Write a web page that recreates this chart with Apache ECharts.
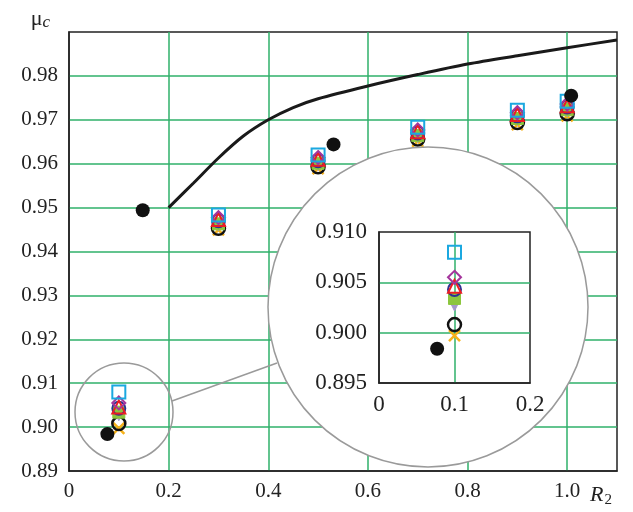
<!DOCTYPE html>
<html><head><meta charset="utf-8">
<script src="https://cdn.jsdelivr.net/npm/echarts@6/dist/echarts.min.js"></script>
<style>html,body{margin:0;padding:0;background:#fff}#c{width:633px;height:512px}</style>
</head><body><div id="c"></div>
<script>
// ---- data ----
const xVals = [0.1, 0.3, 0.5, 0.7, 0.9, 1.0];
const squareY   = [0.9080, 0.9483, 0.9620, 0.9683, 0.9722, 0.9742];
const diamondY  = [0.9055, 0.9477, 0.9614, 0.9677, 0.9716, 0.9736];
const triangleY = [0.9046, 0.9473, 0.9610, 0.9673, 0.9712, 0.9732];
const circleY   = [0.9043, 0.9470, 0.9607, 0.9670, 0.9709, 0.9729];
const greenY    = [0.9034, 0.9463, 0.9601, 0.9664, 0.9703, 0.9723];
const lavenderY = [0.9027, 0.9459, 0.9597, 0.9660, 0.9699, 0.9719];
const blackCircleY = [0.9008, 0.9453, 0.9593, 0.9656, 0.9694, 0.9714];
const crossY    = [0.8997, 0.9449, 0.9589, 0.9651, 0.9689, 0.9709];
const dotX = [0.077, 0.148, 0.531, 1.008];
const dotY = [0.8984, 0.9494, 0.9644, 0.9755];
const lineX = [0.2, 0.25, 0.3, 0.35, 0.4, 0.45, 0.5, 0.6, 0.7, 0.8, 0.9, 1.0, 1.1];
const lineY = [0.950, 0.9556, 0.9613, 0.9663, 0.9700, 0.9728, 0.9748, 0.9777, 0.9803, 0.9827, 0.9846, 0.9864, 0.9882];
const mainXTicks = [0, 0.2, 0.4, 0.6, 0.8, 1.0];
const mainYTicks = [0.89, 0.90, 0.91, 0.92, 0.93, 0.94, 0.95, 0.96, 0.97, 0.98];
const insetXTicks = [0, 0.1, 0.2];
const insetYTicks = [0.895, 0.900, 0.905, 0.910];

const FONT = 'Liberation Serif';
const GRID_C = '#2fb16a';
const zip = (xs, ys) => xs.map((x, i) => [x, ys[i]]);
const near = (v, arr) => arr.some(t => Math.abs(t - v) < 1e-6);

const markerDefs = [
  {name: 'cross', y: crossY, symbol: 'path://M0,0L10,10M10,0L0,10', color: 'rgba(0,0,0,0)', border: '#f6b21b', bw: 2.5, size: 11},
  {name: 'blackCircle', y: blackCircleY, symbol: 'circle', color: 'rgba(0,0,0,0)', border: '#111', bw: 2.5, size: 13},
  {name: 'lavender', y: lavenderY, symbol: 'triangle', rotate: 180, color: '#a598cc', border: '#a598cc', bw: 1, size: 11},
  {name: 'green', y: greenY, symbol: 'rect', color: '#8cc63e', border: '#8cc63e', bw: 1, size: 12},
  {name: 'circle', y: circleY, symbol: 'circle', color: 'rgba(0,0,0,0)', border: '#2e3192', bw: 2, size: 13},
  {name: 'triangle', y: triangleY, symbol: 'triangle', color: 'rgba(0,0,0,0)', border: '#ec1c24', bw: 2, size: 13},
  {name: 'diamond', y: diamondY, symbol: 'diamond', color: 'rgba(0,0,0,0)', border: '#a4359c', bw: 2, size: 13},
  {name: 'square', y: squareY, symbol: 'rect', color: 'rgba(0,0,0,0)', border: '#1ba8e0', bw: 2, size: 13}
];

function markerSeries(xi, yi, z) {
  const s = markerDefs.map(m => ({
    type: 'scatter', xAxisIndex: xi, yAxisIndex: yi, z: z,
    data: zip(xVals, m.y), symbol: m.symbol, symbolSize: m.size,
    symbolRotate: m.rotate || 0, clip: true, animation: false,
    itemStyle: {color: m.color, borderColor: m.border, borderWidth: m.bw, opacity: 1}
  }));
  s.push({type: 'scatter', xAxisIndex: xi, yAxisIndex: yi, z: z, data: zip(dotX, dotY),
    symbol: 'circle', symbolSize: 14, clip: true, animation: false, itemStyle: {color: '#111', opacity: 1}});
  return s;
}

const chart = echarts.init(document.getElementById('c'), null, {renderer: 'canvas'});
const option = {
  animation: false,
  backgroundColor: '#fff',
  grid: [
    {left: 69, right: 16, top: 32, bottom: 41, show: true, borderColor: '#222', borderWidth: 1.5, backgroundColor: 'transparent'},
    {left: 379, top: 232, width: 151, height: 151, show: true, borderColor: '#222', borderWidth: 1.5, backgroundColor: '#fff', z: 10}
  ],
  xAxis: [
    {gridIndex: 0, type: 'value', min: 0, max: 1.1, interval: 0.2,
     axisLine: {show: true, lineStyle: {color: '#222', width: 1.5}}, axisTick: {show: false},
     splitLine: {show: true, showMinLine: false, showMaxLine: false, lineStyle: {color: GRID_C, width: 1.5}},
     axisLabel: {fontFamily: FONT, fontSize: 21, color: '#222', margin: 10,
       formatter: v => near(v, mainXTicks) ? (v === 0 ? '0' : v.toFixed(1)) : ''},
     name: '{r|R}{s|2}', nameLocation: 'end', nameGap: 0,
     nameTextStyle: {align: 'right', verticalAlign: 'top', padding: [12, 5, 0, 0],
       rich: {r: {fontFamily: FONT, fontStyle: 'italic', fontSize: 22, color: '#222'},
              s: {fontFamily: FONT, fontSize: 15, color: '#222', padding: [10, 0, 0, 1]}}}},
    {gridIndex: 1, type: 'value', min: 0, max: 0.2, interval: 0.1, z: 10,
     axisLine: {show: true, lineStyle: {color: '#222', width: 1.5}}, axisTick: {show: false},
     splitLine: {show: true, showMinLine: false, showMaxLine: false, lineStyle: {color: GRID_C, width: 1.5}},
     axisLabel: {fontFamily: FONT, fontSize: 23, color: '#222', margin: 10,
       formatter: v => near(v, insetXTicks) ? (v === 0 ? '0' : v.toFixed(1)) : ''}}
  ],
  yAxis: [
    {gridIndex: 0, type: 'value', min: 0.89, max: 0.99, interval: 0.01,
     axisLine: {show: true, lineStyle: {color: '#222', width: 1.5}}, axisTick: {show: false},
     splitLine: {show: true, showMinLine: false, showMaxLine: false, lineStyle: {color: GRID_C, width: 1.5}},
     axisLabel: {fontFamily: FONT, fontSize: 21, color: '#222', margin: 11,
       formatter: v => near(v, mainYTicks) ? v.toFixed(2) : ''},
     name: '{m|μ}{c|c}', nameLocation: 'end', nameGap: 1,
     nameTextStyle: {align: 'right', verticalAlign: 'bottom', padding: [0, 19, 0, 0],
       rich: {m: {fontFamily: FONT, fontSize: 22, color: '#222'},
              c: {fontFamily: FONT, fontStyle: 'italic', fontSize: 17, color: '#222', padding: [6, 0, 0, 0]}}}},
    {gridIndex: 1, type: 'value', min: 0.895, max: 0.910, interval: 0.005, z: 10,
     axisLine: {show: true, lineStyle: {color: '#222', width: 1.5}}, axisTick: {show: false},
     splitLine: {show: true, showMinLine: false, showMaxLine: false, lineStyle: {color: GRID_C, width: 1.5}},
     axisLabel: {fontFamily: FONT, fontSize: 23, color: '#222', margin: 12,
       formatter: v => near(v, insetYTicks) ? v.toFixed(3) : ''}}
  ],
  graphic: [
    {type: 'circle', z: 5, shape: {cx: 428, cy: 307, r: 160}, style: {fill: '#fff', stroke: '#9a9a9a', lineWidth: 1.5}, silent: true},
    {type: 'circle', z: 5, shape: {cx: 124, cy: 412, r: 49}, style: {fill: 'none', stroke: '#9a9a9a', lineWidth: 1.5}, silent: true},
    {type: 'line', z: 5, shape: {x1: 172, y1: 401, x2: 277, y2: 363}, style: {stroke: '#9a9a9a', lineWidth: 1.5}, silent: true}
  ],
  series: [
    {type: 'line', xAxisIndex: 0, yAxisIndex: 0, z: 2, data: zip(lineX, lineY), showSymbol: false, smooth: 0.3,
     lineStyle: {color: '#1a1a1a', width: 3}, animation: false}
  ].concat(markerSeries(0, 0, 3)).concat(markerSeries(1, 1, 12))
};
chart.setOption(option);
</script></body></html>
